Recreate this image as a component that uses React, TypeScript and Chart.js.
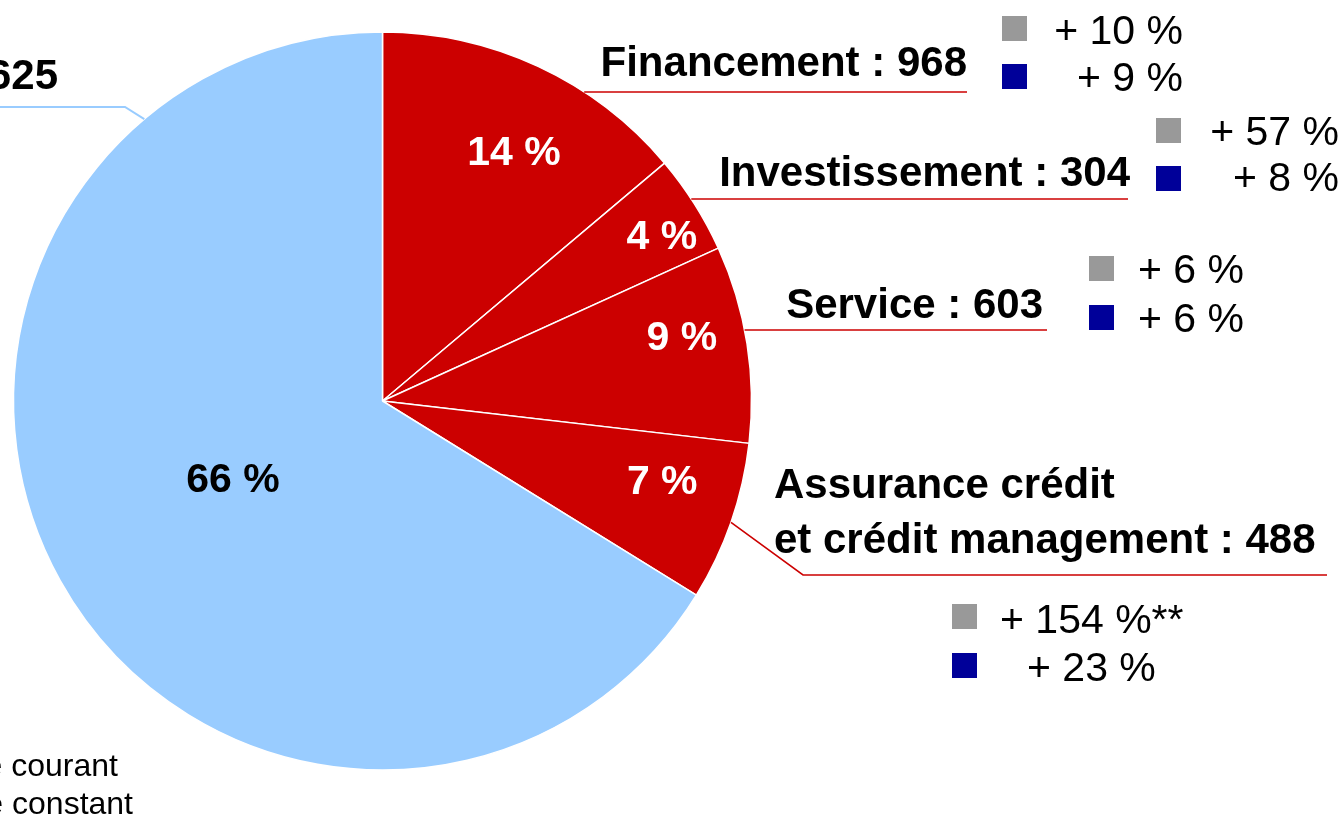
import React, { useEffect, useRef } from "react";
import { Chart, registerables } from "chart.js";

Chart.register(...registerables);

// ---------- data ----------
const categoryLines: string[][] = [
  ["Financement"],
  ["Investissement"],
  ["Service"],
  ["Assurance crédit", "et crédit management"],
  ["Banque de détail"],
];
const categories = categoryLines.map((l) => l.join(" "));
const values = [968, 304, 603, 488, 4625];
const changeCurrent = ["+ 10 %", "+ 57 %", "+ 6 %", "+ 154 %**", ""];
const changeConstant = ["+ 9 %", "+ 8 %", "+ 6 %", "+ 23 %", ""];
const legendLabels = ["Variation à périmètre courant", "Variation à périmètre constant"];

// ---------- styles ----------
const RED = "#CC0000";
const LIGHT_BLUE = "#99CCFF";
const GREY = "#999999";
const NAVY = "#000099";
const sliceColors = [RED, RED, RED, RED, LIGHT_BLUE];
const pctColors = ["#ffffff", "#ffffff", "#ffffff", "#ffffff", "#000000"];
const FONT = "'Liberation Sans', Arial, Helvetica, sans-serif";

// label placement inside slices: [radius fraction, angle offset in degrees]
const pctPlacement: [number, number][] = [
  [0.768, 2.7],
  [0.882, 1.4],
  [0.831, -3.5],
  [0.787, -3.6],
  [0.455, 2.1],
];

type Layout = {
  align: CanvasTextAlign;
  x: number;
  baselines: number[];
  lineY: number;
  lineEndX: number;
  elbow?: { angleDeg: number; x: number };
  squares?: { x: number; tops: number[] };
  change?: { align: CanvasTextAlign; xs: number[]; baselines: number[] };
  lineColor: string;
};

const layouts: Layout[] = [
  {
    align: "right", x: 967, baselines: [76], lineY: 92, lineEndX: 967, lineColor: RED,
    squares: { x: 1002, tops: [16, 64] },
    change: { align: "right", xs: [1183, 1183], baselines: [44, 91] },
  },
  {
    align: "right", x: 1130, baselines: [186], lineY: 199, lineEndX: 1128, lineColor: RED,
    squares: { x: 1156, tops: [118, 166] },
    change: { align: "right", xs: [1339, 1339], baselines: [145, 191] },
  },
  {
    align: "right", x: 1043, baselines: [318], lineY: 330, lineEndX: 1047, lineColor: RED,
    squares: { x: 1089, tops: [256, 305] },
    change: { align: "right", xs: [1244, 1244], baselines: [283, 332] },
  },
  {
    align: "left", x: 774, baselines: [498, 553], lineY: 575, lineEndX: 1327, lineColor: RED,
    elbow: { angleDeg: 109.2, x: 803 },
    squares: { x: 952, tops: [604, 653] },
    change: { align: "left", xs: [1000, 1027], baselines: [633, 681] },
  },
  {
    align: "right", x: 58, baselines: [89], lineY: 107, lineEndX: -10, lineColor: LIGHT_BLUE,
    elbow: { angleDeg: 319.8, x: 125 },
  },
];

const bottomLegend = { rightXs: [118, 133], baselines: [776, 814] };

function fmt(v: number): string {
  const s = String(v);
  return s.length > 3 ? s.slice(0, s.length - 3) + " " + s.slice(-3) : s;
}

const overlayPlugin = {
  id: "overlay",
  afterDraw(chart: any) {
    const ctx: CanvasRenderingContext2D = chart.ctx;
    const meta = chart.getDatasetMeta(0);
    const total = values.reduce((a, b) => a + b, 0);
    ctx.save();

    // percent labels
    ctx.font = `bold 41px ${FONT}`;
    ctx.textAlign = "center";
    ctx.textBaseline = "alphabetic";
    meta.data.forEach((arc: any, i: number) => {
      const p = arc.getProps(["x", "y", "startAngle", "endAngle", "outerRadius"], true);
      const mid = (p.startAngle + p.endAngle) / 2 + (pctPlacement[i][1] * Math.PI) / 180;
      const r = p.outerRadius * pctPlacement[i][0];
      const x = p.x + Math.cos(mid) * r;
      const y = p.y + Math.sin(mid) * r;
      ctx.fillStyle = pctColors[i];
      ctx.fillText(`${Math.round((values[i] / total) * 100)} %`, x, y + 41 * 0.358);
    });

    const arc0 = meta.data[0].getProps(["x", "y", "outerRadius"], true);
    const cx = arc0.x, cy = arc0.y, R = arc0.outerRadius;

    // leader lines + category labels
    layouts.forEach((lay, i) => {
      ctx.strokeStyle = lay.lineColor;
      ctx.lineWidth = lay.lineColor === RED ? 1.6 : 2;
      ctx.beginPath();
      if (lay.elbow) {
        const a = (lay.elbow.angleDeg * Math.PI) / 180;
        ctx.moveTo(cx + Math.sin(a) * R, cy - Math.cos(a) * R);
        ctx.lineTo(lay.elbow.x, lay.lineY);
        ctx.lineTo(lay.lineEndX, lay.lineY);
      } else {
        const dy = lay.lineY - cy;
        const ex = cx + Math.sqrt(Math.max(R * R - dy * dy, 0));
        ctx.moveTo(ex, lay.lineY);
        ctx.lineTo(lay.lineEndX, lay.lineY);
      }
      ctx.stroke();

      ctx.font = `bold 42px ${FONT}`;
      ctx.fillStyle = "#000";
      ctx.textAlign = lay.align;
      const lines = categoryLines[i].slice();
      lines[lines.length - 1] = `${lines[lines.length - 1]} : ${fmt(values[i])}`;
      lines.forEach((t, j) => ctx.fillText(t, lay.x, lay.baselines[j]));

      if (lay.squares && lay.change) {
        const sq = 25;
        ctx.fillStyle = GREY;
        ctx.fillRect(lay.squares.x, lay.squares.tops[0], sq, sq);
        ctx.fillStyle = NAVY;
        ctx.fillRect(lay.squares.x, lay.squares.tops[1], sq, sq);
        ctx.font = `41px ${FONT}`;
        ctx.fillStyle = "#000";
        ctx.textAlign = lay.change.align;
        ctx.fillText(changeCurrent[i], lay.change.xs[0], lay.change.baselines[0]);
        ctx.fillText(changeConstant[i], lay.change.xs[1], lay.change.baselines[1]);
      }
    });

    // bottom-left legend (cropped)
    ctx.font = `32px ${FONT}`;
    ctx.fillStyle = "#000";
    ctx.textAlign = "right";
    legendLabels.forEach((t, j) => ctx.fillText(t, bottomLegend.rightXs[j], bottomLegend.baselines[j]));

    ctx.restore();
  },
};

export default function App() {
  const ref = useRef<HTMLCanvasElement | null>(null);
  useEffect(() => {
    if (!ref.current) return;
    const chart = new Chart(ref.current, {
      type: "pie",
      data: {
        labels: categories,
        datasets: [
          {
            data: values,
            backgroundColor: sliceColors,
            borderColor: "#ffffff",
            borderWidth: 1.5,
          },
        ],
      },
      options: {
        animation: false,
        responsive: false,
        devicePixelRatio: 1,
        layout: { padding: { left: 12.75, right: 590.75, top: 31.25, bottom: 49.25 } },
        plugins: {
          legend: { display: false },
          tooltip: { enabled: false },
        },
      },
      plugins: [overlayPlugin],
    });
    return () => chart.destroy();
  }, []);
  return (
    <div style={{ position: "fixed", left: 0, top: 0, width: 1343, height: 820, background: "#fff" }}>
      <canvas ref={ref} width={1343} height={820} style={{ width: "1343px", height: "820px", display: "block" }} />
    </div>
  );
}
